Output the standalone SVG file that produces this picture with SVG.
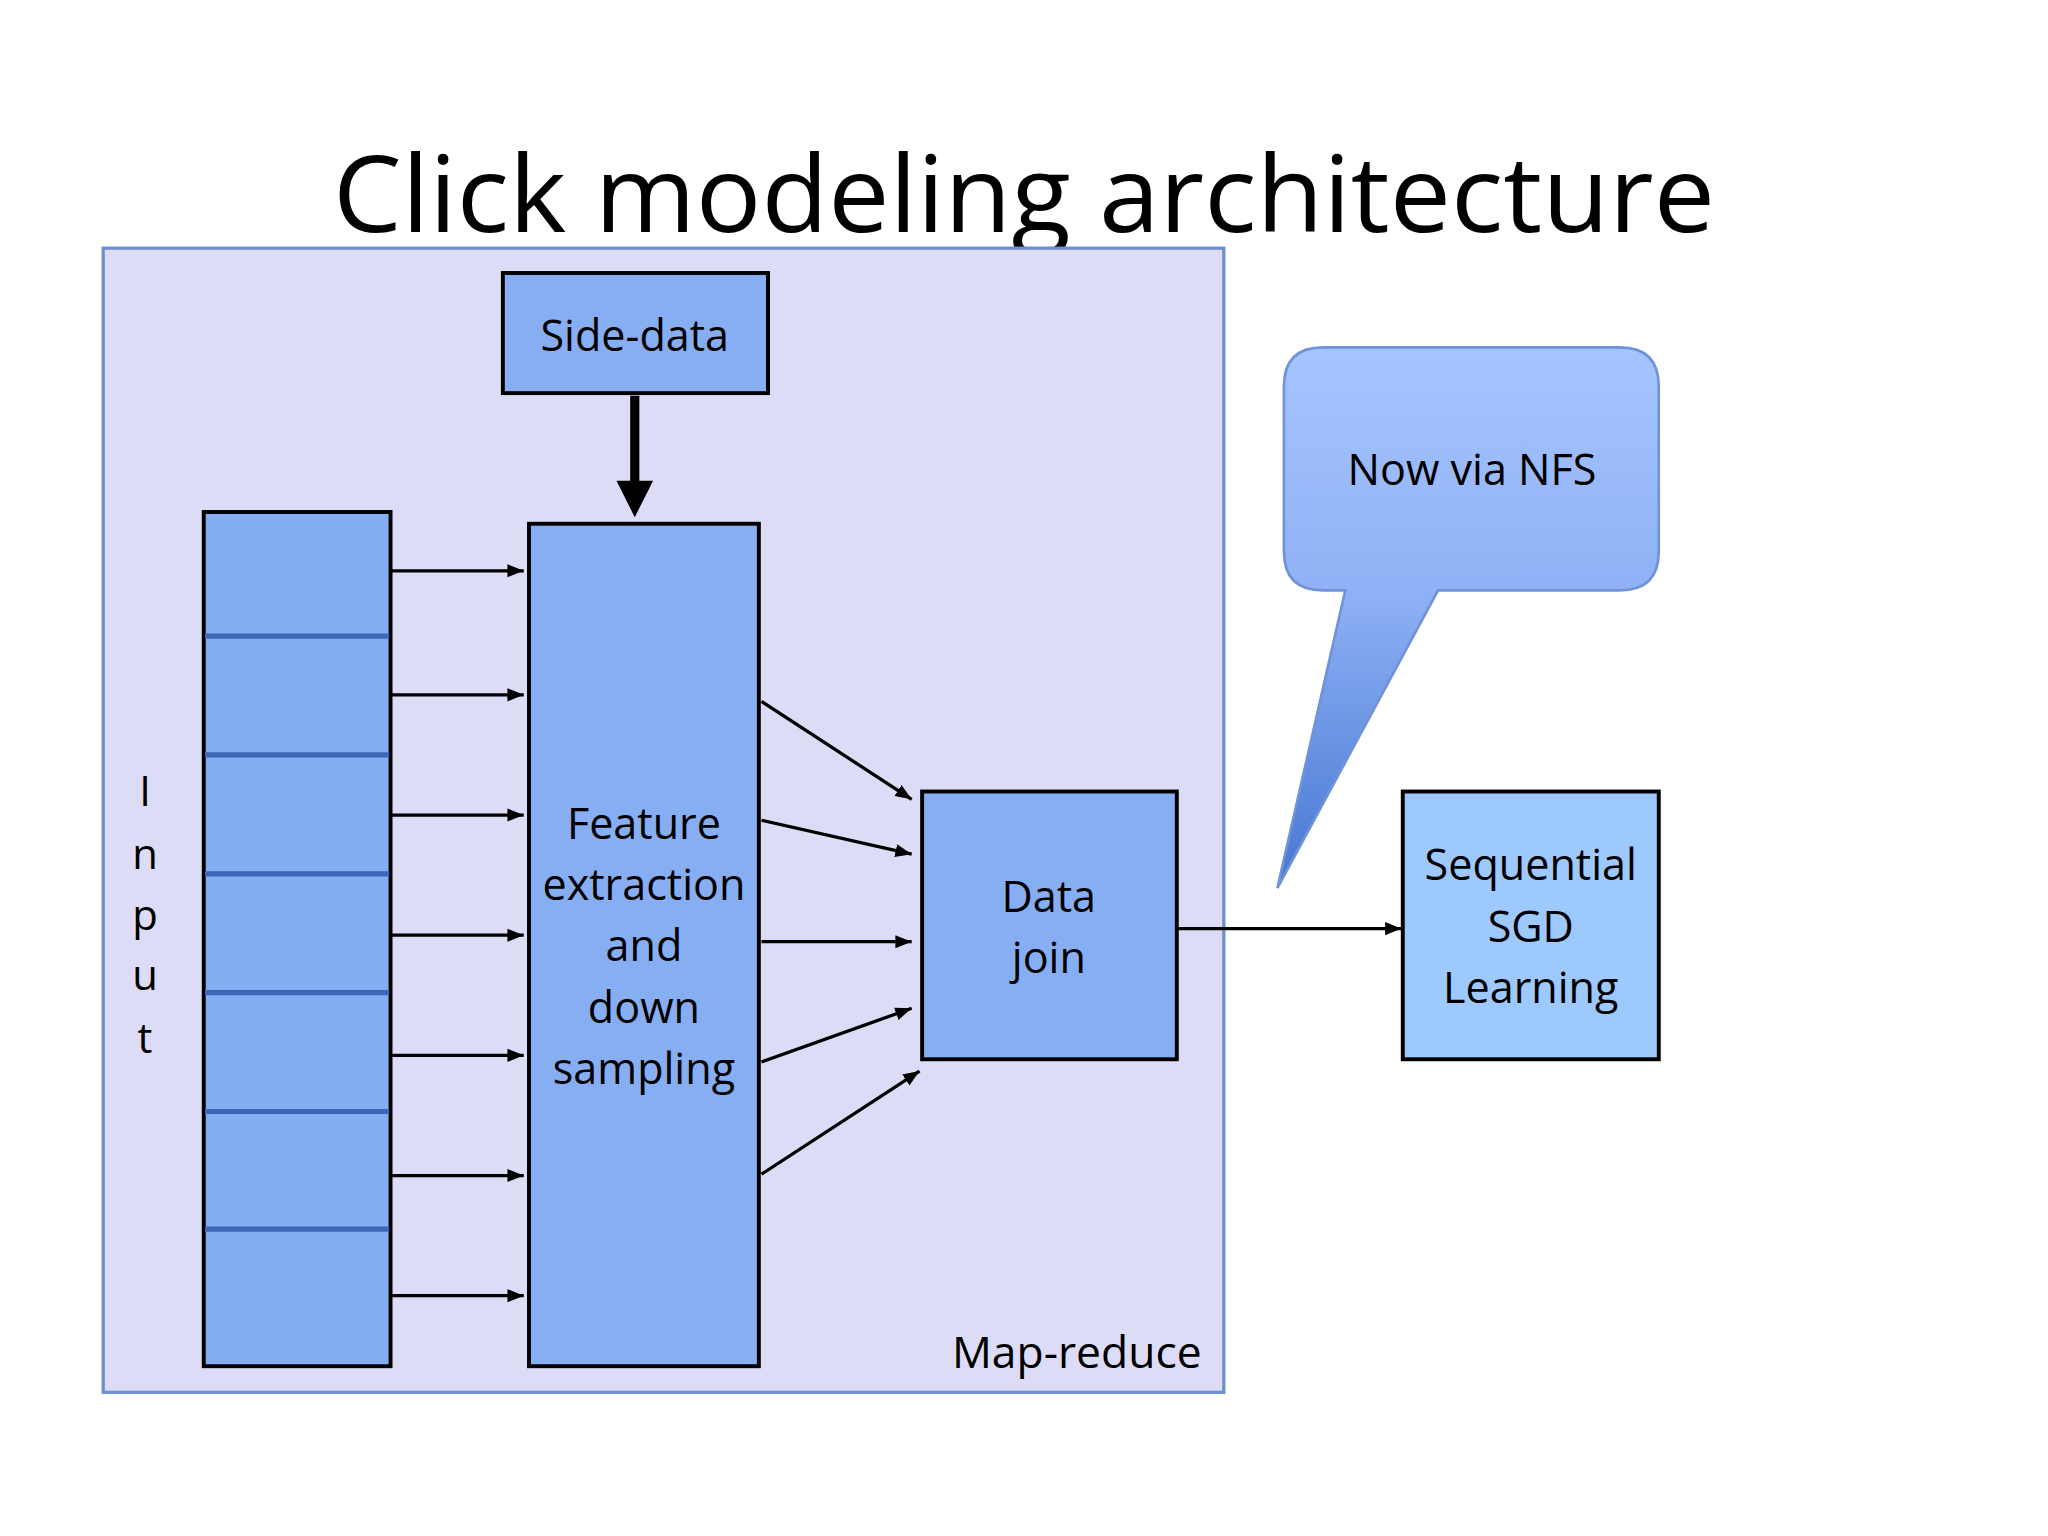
<svg xmlns="http://www.w3.org/2000/svg" width="2048" height="1536" viewBox="0 0 2048 1536">
<style>
.t{font-family:"Open Sans","Noto Sans",sans-serif;fill:#000;text-anchor:middle}
.box{stroke:#000;stroke-width:3}
.a{stroke:#000;stroke-width:2.5;fill:none;marker-end:url(#ah)}
.div{stroke:#3f66b8;stroke-width:4}
</style>
<defs>
<marker id="ah" viewBox="0 0 10 10" refX="10" refY="5" markerWidth="5" markerHeight="5" orient="auto" markerUnits="strokeWidth"><path d="M0,1 L10,5 L0,9 z" fill="#000"/></marker>
<linearGradient id="cg" x1="0" y1="0" x2="0" y2="1">
<stop offset="0" stop-color="#a6c4ff"/><stop offset="0.45" stop-color="#8fb1f5"/><stop offset="1" stop-color="#4677d2"/>
</linearGradient>
</defs>
<rect width="2048" height="1536" fill="#fff"/>
<g transform="scale(1.30612)">
<text class="t" x="784" y="178" font-size="82" textLength="1058" lengthAdjust="spacingAndGlyphs">Click modeling architecture</text>
<g id="mapreduce">
<rect x="79" y="190" width="858" height="876" fill="#dcdcf6" stroke="#6d8fcf" stroke-width="2.5"/>
<text class="t" x="920" y="1047" font-size="34" style="text-anchor:end">Map-reduce</text>
</g>
<g id="sidedata"><rect class="box" x="385" y="209" width="203" height="92" fill="#87aef2"/><text class="t" x="486" y="269" font-size="33">Side-data</text></g>
<g id="input">
<rect class="box" x="156" y="392" width="143" height="654" fill="#85aef2"/>
<line class="div" x1="157" y1="487" x2="298" y2="487"/><line class="div" x1="157" y1="578" x2="298" y2="578"/><line class="div" x1="157" y1="669" x2="298" y2="669"/><line class="div" x1="157" y1="760" x2="298" y2="760"/><line class="div" x1="157" y1="851" x2="298" y2="851"/><line class="div" x1="157" y1="941" x2="298" y2="941"/>
<text class="t" font-size="32"><tspan x="111" y="617">I</tspan><tspan x="111" y="665">n</tspan><tspan x="111" y="712">p</tspan><tspan x="111" y="758">u</tspan><tspan x="111" y="806">t</tspan></text>
</g>
<g id="feature"><rect class="box" x="405" y="401" width="176" height="645" fill="#87aef2"/>
<text class="t" font-size="33"><tspan x="493" y="642">Feature</tspan><tspan x="493" y="689">extraction</tspan><tspan x="493" y="736">and</tspan><tspan x="493" y="783">down</tspan><tspan x="493" y="830">sampling</tspan></text></g>
<g id="datajoin"><rect class="box" x="706" y="606" width="195" height="205" fill="#87aef2"/>
<text class="t" font-size="33"><tspan x="803" y="698">Data</tspan><tspan x="803" y="745">join</tspan></text></g>
<g id="sgd"><rect class="box" x="1074" y="606" width="196" height="205" fill="#9ec9ff"/>
<text class="t" font-size="33"><tspan x="1172" y="674">Sequential</tspan><tspan x="1172" y="721">SGD</tspan><tspan x="1172" y="768">Learning</tspan></text></g>
<g id="callout">
<path d="M1013,266 H1240 Q1270,266 1270,296 V422 Q1270,452 1240,452 H1101 L978,680 L1030,452 H1013 Q983,452 983,422 V296 Q983,266 1013,266 Z" fill="url(#cg)" stroke="#6f93d6" stroke-width="2"/>
<text class="t" x="1127" y="371" font-size="33">Now via NFS</text>
</g>
<g id="connectors">
<line x1="486" y1="303" x2="486" y2="370" stroke="#000" stroke-width="7"/>
<path d="M472,368 L500,368 L486,396 Z" fill="#000"/>
<line class="a" x1="300" y1="437" x2="401" y2="437"/><line class="a" x1="300" y1="532" x2="401" y2="532"/><line class="a" x1="300" y1="624" x2="401" y2="624"/><line class="a" x1="300" y1="716" x2="401" y2="716"/><line class="a" x1="300" y1="808" x2="401" y2="808"/><line class="a" x1="300" y1="900" x2="401" y2="900"/><line class="a" x1="300" y1="992" x2="401" y2="992"/>
<line class="a" x1="583" y1="537" x2="698" y2="612"/><line class="a" x1="583" y1="628" x2="698" y2="654"/><line class="a" x1="583" y1="721" x2="698" y2="721"/><line class="a" x1="583" y1="813" x2="698" y2="772"/><line class="a" x1="583" y1="899" x2="704" y2="820"/>
<line class="a" x1="902" y1="711" x2="1073" y2="711"/>
</g>
</g>
</svg>
